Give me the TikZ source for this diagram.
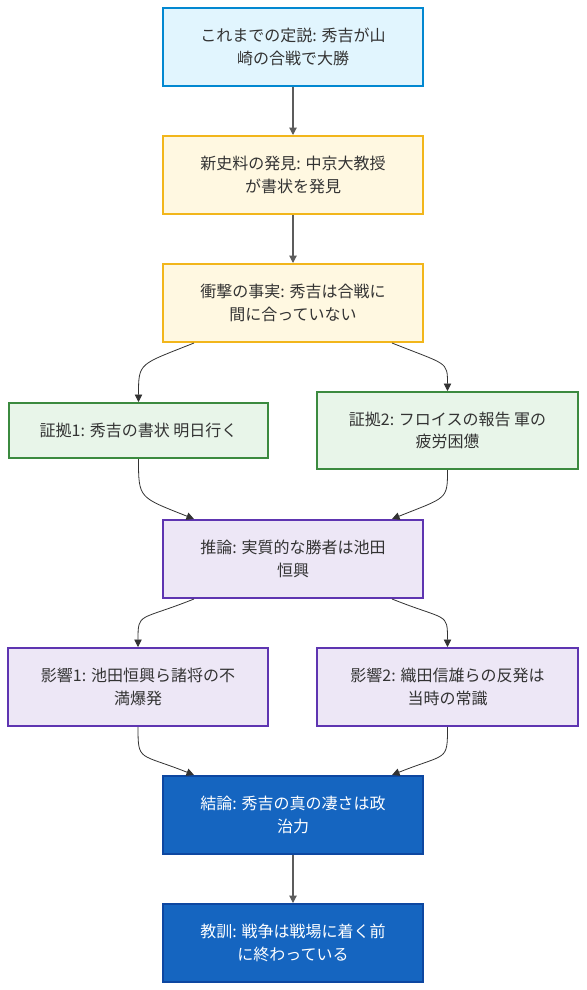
\documentclass[tikz,border=0pt]{standalone}
\usepackage{fontspec}
\newfontfamily\cjk{Noto Sans CJK JP}
\usetikzlibrary{arrows.meta}
\definecolor{oldfill}{HTML}{E1F5FE}
\definecolor{olddraw}{HTML}{0288D1}
\definecolor{newfill}{HTML}{FFF8E1}
\definecolor{newdraw}{HTML}{F2B61B}
\definecolor{evifill}{HTML}{E8F5E9}
\definecolor{evidraw}{HTML}{3B8A3F}
\definecolor{inffill}{HTML}{EDE7F6}
\definecolor{infdraw}{HTML}{5E35B1}
\definecolor{endfill}{HTML}{1565C0}
\definecolor{enddraw}{HTML}{0D47A1}
\definecolor{txt}{HTML}{333333}
\begin{document}
\begin{tikzpicture}[x=1pt,y=-1pt,>={Stealth[length=7.5pt,width=7.5pt,inset=0pt]},
    box/.style={draw,line width=2pt,minimum width=260pt,minimum height=78pt,align=center,
      text=txt,font=\cjk\fontsize{16}{22.5}\selectfont,inner sep=0pt},
    oldbox/.style={box,fill=oldfill,draw=olddraw},
    newbox/.style={box,fill=newfill,draw=newdraw},
    evibox/.style={box,fill=evifill,draw=evidraw},
    infbox/.style={box,fill=inffill,draw=infdraw},
    endbox/.style={box,fill=endfill,draw=enddraw,text=white},
    line/.style={->,draw=txt!80,line width=1.1pt},
    curveline/.style={->,draw=txt,line width=0.8pt}]
    \useasboundingbox[fill=white] (0,0) rectangle (586,990);
    \node[oldbox] (old) at (293,47) {これまでの定説: 秀吉が山\\崎の合戦で大勝};
    \node[newbox] (find) at (293,175) {新史料の発見: 中京大教授\\が書状を発見};
    \node[newbox] (fact) at (293,303) {衝撃の事実: 秀吉は合戦に\\間に合っていない};
    \node[evibox,minimum height=55pt,minimum width=259pt] (evi1) at (138.5,430.5) {証拠1: 秀吉の書状 明日行く};
    \node[evibox,minimum height=77pt,minimum width=261pt] (evi2) at (447.5,430.5) {証拠2: フロイスの報告 軍の\\疲労困憊};
    \node[infbox] (guess) at (293,559) {推論: 実質的な勝者は池田\\恒興};
    \node[infbox] (eff1) at (138,687) {影響1: 池田恒興ら諸将の不\\満爆発};
    \node[infbox,minimum width=261pt] (eff2) at (447.5,687) {影響2: 織田信雄らの反発は\\当時の常識};
    \node[endbox] (concl) at (293,815) {結論: 秀吉の真の凄さは政\\治力};
    \node[endbox] (lesson) at (293,943) {教訓: 戦争は戦場に着く前\\に終わっている};
    \draw[line] (old) -- (find);
    \draw[line] (find) -- (fact);
    \draw[curveline] (fact.202) .. controls +(-55,22) and +(0,-40) .. (evi1.north);
    \draw[curveline] (fact.-22) .. controls +(55,22) and +(0,-30) .. (evi2.north);
    \draw[curveline] (evi1.south) .. controls +(0,40) and +(-55,-22) .. (guess.158);
    \draw[curveline] (evi2.south) .. controls +(0,30) and +(55,-22) .. (guess.22);
    \draw[curveline] (guess.202) .. controls +(-55,22) and +(0,-35) .. (eff1.north);
    \draw[curveline] (guess.-22) .. controls +(55,22) and +(0,-35) .. (eff2.north);
    \draw[curveline] (eff1.south) .. controls +(0,35) and +(-55,-22) .. (concl.158);
    \draw[curveline] (eff2.south) .. controls +(0,35) and +(55,-22) .. (concl.22);
    \draw[line] (concl) -- (lesson);
\end{tikzpicture}
\end{document}
